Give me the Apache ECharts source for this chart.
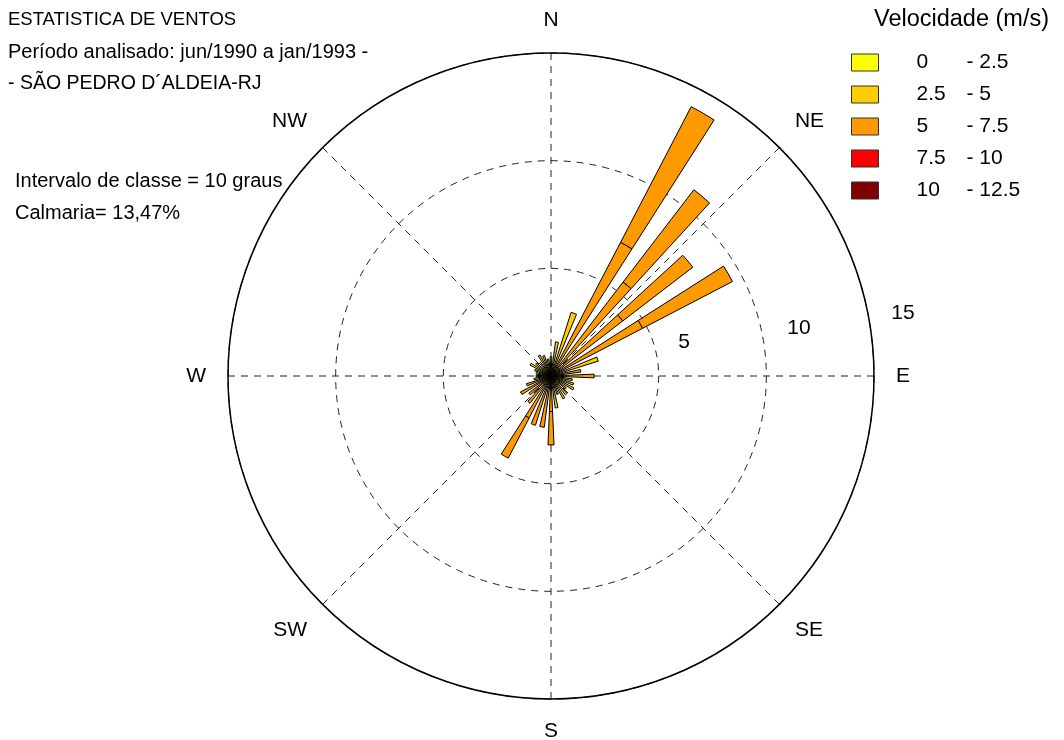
<!DOCTYPE html>
<html>
<head>
<meta charset="utf-8">
<script src="https://cdn.jsdelivr.net/npm/echarts@6/dist/echarts.min.js"></script>
<style>
  html, body { margin: 0; padding: 0; background: #fff; }
  #rosa { width: 1064px; height: 740px; }
</style>
</head>
<body>
<div id="rosa"></div>
<script>
// direcoes de 10 em 10 graus (intervalo de classe = 10 graus)
var direcoes = [];
for (var d = 0; d < 360; d += 10) direcoes.push(String(d));

// rotulos dos pontos cardeais (de 45 em 45 graus)
var pontos = ['N', 'NE', 'E', 'SE', 'S', 'SW', 'W', 'NW'];

// classes de velocidade (m/s)
var classes = ['0 - 2.5', '2.5 - 5', '5 - 7.5', '7.5 - 10', '10 - 12.5'];
var cores = ['#FFFF00', '#FFCC00', '#FF9900', '#FF0000', '#800000'];

// frequencias (%) por direcao
//            0    10   20   30   40   50   60   70   80   90   100  110  120  130  140  150  160  170
var faixa1 = [0,   0,   0,   0,   0,   0,   0,   0,   0,   0,   0,   0,   0,   0,   0,   0,   0,   0,
//            180  190  200  210  220  230  240  250  260  270  280  290  300  310  320  330  340  350
              0,   0,   0,   0,   0,   0,   0,   0,   0,   0,   0,   0,   1.1, 0,   0,   0,   0,   0];
var faixa2 = [0.9, 1.6, 3.1, 0,   0,   0,   0,   2.3, 0,   0,   1.0, 1.1, 1.2, 0,   1.1, 1.2, 0,   1.5,
              0,   0,   0,   0,   0,   0,   0,   0,   0.8, 0.7, 0.7, 0.8, 0,   0.9, 0.8, 1.1, 1.0, 0.8];
var faixa3a = [0,  0,   0,   7.0, 5.5, 4.2, 4.8, 0,   1.4, 2.0, 0,   0,   0,   0.9, 0,   0,   0.9, 0,
              1.65, 2.4, 2.4, 2.2, 1.6, 1.3, 1.6, 1.2, 0,  0,   0,   0,   0,   0,   0,   0,   0,   0];
var faixa3b = [0,  0,   0,   7.1, 5.4, 4.1, 4.7, 0,   0,   0,   0,   0,   0,   0,   0,   0,   0,   0,
              1.55, 0,  0,   2.1, 0,   0,   0,   0,   0,   0,   0,   0,   0,   0,   0,   0,   0,   0];
var faixa4 = direcoes.map(function () { return 0; });
var faixa5 = direcoes.map(function () { return 0; });

var anelMax = 15;
var anelPasso = 5;

var fonte = "'Liberation Sans', Arial, sans-serif";

function serie(nome, cor, valores) {
  return {
    name: nome,
    type: 'bar',
    coordinateSystem: 'polar',
    polarIndex: 0,
    stack: 'freq',
    barCategoryGap: '50%',
    animation: false,
    itemStyle: { color: cor, borderColor: '#000', borderWidth: 1 },
    data: valores.map(function (v) { return v || null; })
  };
}

function texto(t, x, y, tam, alinh) {
  return {
    type: 'text', x: x, y: y, silent: true,
    style: {
      text: t, fill: '#000', font: tam + 'px ' + fonte,
      align: alinh || 'left', verticalAlign: 'middle'
    }
  };
}

var myChart = echarts.init(document.getElementById('rosa'));

var option = {
  backgroundColor: '#fff',
  animation: false,
  polar: [
    { center: [551, 376], radius: 323 },
    { center: [551, 376], radius: 323 }
  ],
  angleAxis: [
    {
      polarIndex: 0,
      type: 'category',
      data: direcoes,
      startAngle: 95,
      clockwise: true,
      axisLine: { show: false },
      axisTick: { show: false },
      axisLabel: { show: false },
      splitLine: { show: false }
    },
    {
      polarIndex: 1,
      type: 'value',
      min: 0,
      max: 360,
      interval: 45,
      startAngle: 90,
      clockwise: true,
      z: 0,
      axisLine: { show: true, lineStyle: { color: '#000', width: 1.5 } },
      axisTick: { show: false },
      axisLabel: {
        show: true, margin: 22, color: '#000', fontSize: 21, fontFamily: fonte,
        formatter: function (v) { return v >= 360 ? '' : pontos[Math.round(v / 45)]; }
      },
      splitLine: { show: true, lineStyle: { color: '#222', width: 1, type: [7, 6] } }
    }
  ],
  radiusAxis: [
    {
      polarIndex: 0,
      min: 0, max: anelMax,
      axisLine: { show: false },
      axisTick: { show: false },
      axisLabel: { show: false },
      splitLine: { show: false }
    },
    {
      polarIndex: 1,
      min: 0, max: anelMax, interval: anelPasso,
      z: 0,
      axisLine: { show: false },
      axisTick: { show: false },
      axisLabel: { show: false },
      splitLine: { show: true, lineStyle: { color: '#222', width: 1, type: [7, 6] } }
    }
  ],
  legend: {
    data: classes,
    orient: 'vertical',
    left: 846,
    top: 47,
    itemWidth: 27,
    itemHeight: 17,
    itemGap: 11,
    icon: 'rect',
    selectedMode: false,
    itemStyle: { borderColor: '#333', borderWidth: 1 },
    formatter: function (nome) {
      var p = nome.split(' - ');
      return '{a|' + p[0] + '}{b|- ' + p[1] + '}';
    },
    textStyle: {
      color: '#000',
      fontSize: 21,
      fontFamily: fonte,
      padding: [0, 0, 0, 33],
      rich: {
        a: { width: 50, fontSize: 21, fontFamily: fonte, color: '#000' },
        b: { fontSize: 21, fontFamily: fonte, color: '#000' }
      }
    }
  },
  graphic: [
    texto('ESTATISTICA DE VENTOS', 8, 20, 18.5),
    texto('Período analisado: jun/1990 a jan/1993 -', 8, 52, 20),
    texto('- SÃO PEDRO D´ALDEIA-RJ', 8, 84, 19.5),
    texto('Intervalo de classe = 10 graus', 15, 181, 20),
    texto('Calmaria= 13,47%', 15, 213, 20),
    texto('Velocidade (m/s)', 874, 20, 23.5),
    texto('5', 684, 342, 21, 'center'),
    texto('10', 799, 328, 21, 'center'),
    texto('15', 903, 313, 21, 'center')
  ],
  series: [
    serie(classes[0], cores[0], faixa1),
    serie(classes[1], cores[1], faixa2),
    serie(classes[2], cores[2], faixa3a),
    serie(classes[2], cores[2], faixa3b),
    serie(classes[3], cores[3], faixa4),
    serie(classes[4], cores[4], faixa5)
  ]
};

myChart.setOption(option);
</script>
</body>
</html>
